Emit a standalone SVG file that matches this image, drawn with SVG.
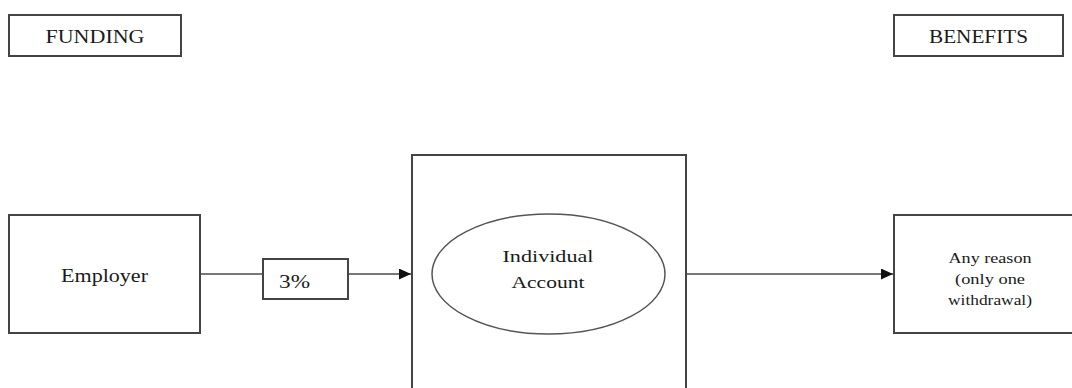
<svg xmlns="http://www.w3.org/2000/svg" width="1072" height="388" viewBox="0 0 1072 388">
<style>
.box{fill:#fff;stroke:#444;stroke-width:2}
.ell{fill:#fff;stroke:#555;stroke-width:1.5}
.t{font-family:"Liberation Serif","Times New Roman",serif;fill:#1a1a1a;text-anchor:middle}
.conn{stroke:#777;stroke-width:1.8;fill:none}
</style>
<defs>
<marker id="arr" viewBox="0 0 12 11" refX="12" refY="5.5" markerWidth="12" markerHeight="11" markerUnits="userSpaceOnUse" orient="auto">
<path d="M0,0 L12,5.5 L0,11 z" fill="#111"/>
</marker>
</defs>
<rect width="1072" height="388" fill="#fff"/>
<g id="funding">
<rect class="box" x="9" y="15" width="172" height="41"/>
<text class="t" x="95" y="43" font-size="19" textLength="99" lengthAdjust="spacingAndGlyphs">FUNDING</text>
</g>
<g id="benefits-label">
<rect class="box" x="894" y="15" width="169" height="41"/>
<text class="t" x="978.5" y="43" font-size="19" textLength="99" lengthAdjust="spacingAndGlyphs">BENEFITS</text>
</g>
<g id="connectors">
<line class="conn" x1="200" y1="274" x2="263" y2="274"/>
<line class="conn" x1="348" y1="274" x2="411" y2="274" marker-end="url(#arr)"/>
<line class="conn" x1="686" y1="274" x2="893" y2="274" marker-end="url(#arr)"/>
</g>
<g id="employer">
<rect class="box" x="9" y="215" width="191" height="118"/>
<text class="t" x="104.5" y="282" font-size="18" textLength="87" lengthAdjust="spacingAndGlyphs">Employer</text>
</g>
<g id="pct">
<rect class="box" x="263" y="259" width="85" height="40"/>
<text class="t" x="294.5" y="288" font-size="18" textLength="31" lengthAdjust="spacingAndGlyphs">3%</text>
</g>
<g id="account">
<rect class="box" x="412" y="155" width="274" height="250"/>
<ellipse class="ell" cx="548.5" cy="274" rx="116.5" ry="60"/>
<text class="t" x="548" y="262" font-size="17" textLength="91" lengthAdjust="spacingAndGlyphs">Individual</text>
<text class="t" x="548" y="288" font-size="17" textLength="73" lengthAdjust="spacingAndGlyphs">Account</text>
</g>
<g id="benefits">
<rect class="box" x="894" y="215" width="190" height="118"/>
<text class="t" x="990" y="263" font-size="15" textLength="83" lengthAdjust="spacingAndGlyphs">Any reason</text>
<text class="t" x="990" y="284" font-size="15" textLength="70" lengthAdjust="spacingAndGlyphs">(only one</text>
<text class="t" x="990" y="305" font-size="15" textLength="84" lengthAdjust="spacingAndGlyphs">withdrawal)</text>
</g>
</svg>
